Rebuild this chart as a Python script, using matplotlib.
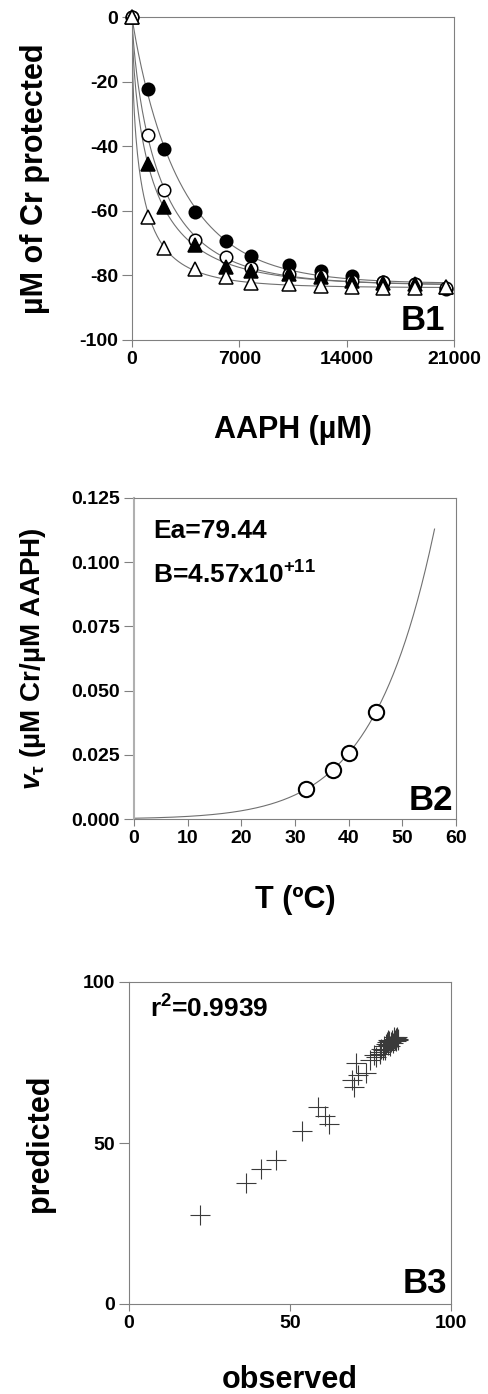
import numpy as np
import matplotlib
matplotlib.use("Agg")
import matplotlib.pyplot as plt

plt.rcParams['font.family'] = ['Liberation Sans', 'DejaVu Sans']
plt.rcParams['font.weight'] = 'bold'
plt.rcParams['axes.unicode_minus'] = False
plt.rcParams['mathtext.fontset'] = 'custom'
plt.rcParams['mathtext.rm'] = 'Liberation Sans:bold'
plt.rcParams['mathtext.it'] = 'Liberation Sans:italic:bold'
plt.rcParams['mathtext.default'] = 'rm'

# ---- B1 data: AAPH (uM) vs uM of Cr protected, four series
aaph = [0, 1040, 2070, 4110, 6160, 7730, 10250, 12300, 14340, 16390, 18430, 20500]
cr_fill_circle = [0, -22.4, -40.9, -60.5, -69.5, -73.9, -76.7, -78.7, -80.3, -81.9, -82.6, -84.2]
cr_open_circle = [0, -36.6, -53.6, -68.9, -74.4, -77.7, -79.5, -80.3, -81.6, -82.1, -82.8, -83.9]
cr_fill_tri = [0, -45.5, -58.8, -70.5, -77.4, -78.7, -79.7, -80.5, -81.8, -82.4, -82.8, -83.6]
cr_open_tri = [0, -61.9, -71.4, -78.1, -80.5, -82.2, -82.6, -83.2, -83.6, -83.9, -83.9, -83.6]

# ---- B2 data: temperature vs rate
temp_c = [32, 37, 40, 45]
rate = [0.0115, 0.0192, 0.0257, 0.0415]
Ea = 79.44      # kJ/mol
B_pre = 4.57e11

# ---- B3 data: observed vs predicted
observed = [22.2, 36.4, 41.0, 45.8, 53.8, 58.7, 60.8, 62.1, 69.4, 69.8,
            70.4, 71.1, 73.7, 74.7, 76.6, 77.8, 78.4, 79.1, 79.7, 80.1,
            80.9, 81.8, 82.4, 83.0, 83.5, 82.0, 78.9, 79.5, 80.5, 81.5,
            82.5, 83.2, 81.0, 82.8, 78.0, 76.0, 80.3, 83.4, 82.2]
predicted = [27.6, 37.7, 41.8, 44.7, 53.8, 61.1, 58.4, 55.9, 69.7, 67.5,
             74.7, 71.1, 71.8, 75.9, 76.8, 78.3, 79.3, 80.1, 80.7, 81.4,
             81.7, 82.1, 82.4, 82.7, 82.3, 81.1, 78.8, 79.0, 80.5, 81.5,
             82.0, 82.8, 80.2, 81.6, 77.5, 77.2, 81.9, 81.9, 82.9]

fig = plt.figure(figsize=(4.88, 13.94), dpi=100)
W, H = 488.0, 1394.0

spine_col = '#808080'


def style_axes(ax):
    for s in ax.spines.values():
        s.set_color(spine_col)
        s.set_linewidth(0.8)
    ax.tick_params(axis='both', colors=spine_col, labelcolor='black',
                   labelsize=14, width=0.8, direction='out', pad=3)
    ax.tick_params(axis='y', length=7)
    ax.tick_params(axis='x', length=5)
    for lab in ax.get_xticklabels() + ax.get_yticklabels():
        lab.set_fontweight('bold')


def fit_curve(x, y):
    # stretched exponential fit  y = -A (1 - exp(-(k x)^n)), grid search
    x = np.asarray(x, float)
    y = np.asarray(y, float)
    best = None
    for k in np.linspace(1e-4, 1.5e-3, 141):
        for n in np.linspace(0.5, 1.3, 41):
            f = -(1 - np.exp(-(k * x) ** n))
            A = np.dot(f, y) / np.dot(f, f)
            err = np.sum((A * f - y) ** 2)
            if best is None or err < best[0]:
                best = (err, A, k, n)
    _, A, k, n = best
    xs = np.linspace(0, max(x), 400)
    return xs, -A * (1 - np.exp(-(k * xs) ** n))


# ================= B1
ax1 = fig.add_axes([132 / W, 1 - 340 / H, 322 / W, 323 / H])
series = [
    (cr_fill_circle, 'o', 'black'),
    (cr_open_circle, 'o', 'white'),
    (cr_fill_tri, '^', 'black'),
    (cr_open_tri, '^', 'white'),
]
for ys, mk, fc in series:
    xs, yf = fit_curve(aaph, ys)
    ax1.plot(xs, yf, color='#707070', lw=0.8, zorder=2)
for i, (ys, mk, fc) in enumerate(series):
    ax1.plot(aaph, ys, linestyle='none', marker=mk, ms=9 if mk == 'o' else 9.5,
             mfc=fc, mec='black', mew=1.1, clip_on=False, zorder=3 + i)
ax1.set_xlim(0, 21000)
ax1.set_ylim(-100, 0)
ax1.set_xticks([0, 7000, 14000, 21000])
ax1.set_yticks([0, -20, -40, -60, -80, -100])
style_axes(ax1)
ax1.set_xlabel('AAPH (µM)', fontsize=22, fontweight='bold')
ax1.xaxis.label.set_va('center')
ax1.xaxis.set_label_coords(0.5, -0.279)
ax1.set_ylabel('µM of Cr protected', fontsize=22, fontweight='bold')
ax1.yaxis.label.set_va('center')
ax1.yaxis.set_label_coords(-0.301, 0.5)
ax1.text(0.972, 0.031, 'B1', transform=ax1.transAxes, ha='right',
         va='baseline', fontsize=25, fontweight='bold')

# ================= B2
ax2 = fig.add_axes([134 / W, 1 - 819 / H, 322 / W, 321 / H])
tc = np.linspace(0, 56, 300)
arr = B_pre * np.exp(-Ea * 1000 / (8.314 * (tc + 273.15)))
ax2.plot(tc, arr, color='#707070', lw=0.8, zorder=2)
ax2.plot(temp_c, rate, linestyle='none', marker='o', ms=11, mfc='white',
         mec='black', mew=1.5, zorder=3)
ax2.set_xlim(0, 60)
ax2.set_ylim(0, 0.125)
ax2.set_xticks(range(0, 61, 10))
ax2.set_yticks([0, 0.025, 0.05, 0.075, 0.1, 0.125])
ax2.set_yticklabels(['0.000', '0.025', '0.050', '0.075', '0.100', '0.125'])
style_axes(ax2)
ax2.spines['left'].set_color('#b0b0b0')
ax2.spines['left'].set_linewidth(1.5)
ax2.set_xlabel('T (ºC)', fontsize=22, fontweight='bold')
ax2.xaxis.label.set_va('center')
ax2.xaxis.set_label_coords(0.5, -0.252)
ax2.set_ylabel(r'$\mathit{v}_{\tau}$ (µM Cr/µM AAPH)', fontsize=20,
               fontweight='bold')
ax2.yaxis.label.set_va('center')
ax2.yaxis.set_label_coords(-0.314, 0.5)
ax2.text(0.059, 0.875, 'Ea=%.2f' % Ea, transform=ax2.transAxes,
         va='baseline', fontsize=19, fontweight='bold')
ax2.text(0.059, 0.732, r'B=4.57x10$^{+11}$', transform=ax2.transAxes,
         va='baseline', fontsize=19, fontweight='bold')
ax2.text(0.99, 0.028, 'B2', transform=ax2.transAxes, ha='right',
         va='baseline', fontsize=25, fontweight='bold')

# ================= B3
ax3 = fig.add_axes([129 / W, 1 - 1304 / H, 322 / W, 322 / H])
ax3.plot(observed, predicted, linestyle='none', marker='+', ms=14,
         mew=0.8, color='#3a3a3a')
ax3.set_xlim(0, 100)
ax3.set_ylim(0, 100)
ax3.set_xticks([0, 50, 100])
ax3.set_yticks([0, 50, 100])
style_axes(ax3)
ax3.set_xlabel('observed', fontsize=22, fontweight='bold')
ax3.xaxis.label.set_va('center')
ax3.xaxis.set_label_coords(0.5, -0.236)
ax3.set_ylabel('predicted', fontsize=22, fontweight='bold')
ax3.yaxis.label.set_va('center')
ax3.yaxis.set_label_coords(-0.276, 0.5)
ax3.text(0.065, 0.888, r'r$^{2}$=0.9939', transform=ax3.transAxes,
         va='baseline', fontsize=19, fontweight='bold')
ax3.text(0.987, 0.035, 'B3', transform=ax3.transAxes, ha='right',
         va='baseline', fontsize=25, fontweight='bold')

fig.savefig('out.png', dpi=100)
